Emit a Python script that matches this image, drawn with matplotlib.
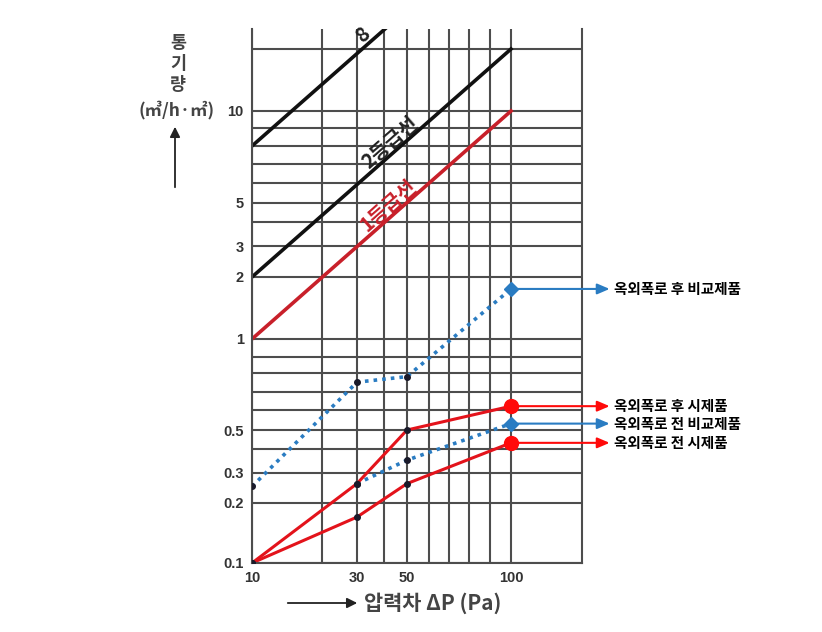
import numpy as np
import matplotlib
matplotlib.use('Agg')
import matplotlib.pyplot as plt
from matplotlib.ticker import FixedLocator, NullFormatter

plt.rcParams['font.family'] = ['Noto Sans CJK KR', 'DejaVu Sans']

# measured points (pressure difference Pa -> air permeability m3/h.m2)
dp = [10, 30, 50, 100]
after_sample = [0.1, 0.26, 0.5, 0.62]      # 옥외폭로 후 시제품
before_sample = [0.1, 0.17, 0.26, 0.43]    # 옥외폭로 전 시제품
after_ref = [0.25, 0.75, 0.78, 1.75]       # 옥외폭로 후 비교제품
dp_before_ref = [30, 50, 100]
before_ref = [0.26, 0.35, 0.53]            # 옥외폭로 전 비교제품

# grade lines
grade_x = [10, 100]
grade1 = [1, 10]
grade2 = [2, 20]
grade8 = [8, 80]

x_ticks = [10, 30, 50, 100]
x_minor = [20, 40, 60, 70, 80, 90]
y_ticks = [0.1, 0.2, 0.3, 0.5, 1, 2, 3, 5, 10]
y_tick_labels = ['0.1', '0.2', '0.3', '0.5', '1', '2', '3', '5', '10']
y_minor = [0.4, 0.6, 0.7, 0.8, 0.9, 4, 6, 7, 8, 9, 20]

labels = ['옥외폭로 후 비교제품', '옥외폭로 후 시제품', '옥외폭로 전 비교제품', '옥외폭로 전 시제품']

# the printed chart is not a true log grid, so the scale is built from
# breakpoints (value -> pixel distance from axis origin)
xs_val = [10, 20, 30, 40, 50, 60, 70, 80, 90, 100, 200]
xs_pos = [0, 70, 105, 132, 155, 177, 197, 217, 238, 259, 330]
ys_val = [0.1, 0.2, 0.3, 0.4, 0.5, 0.6, 0.7, 0.8, 0.9, 1, 2, 3, 4, 5, 6, 7, 8, 9, 10, 20, 80]
ys_pos = [0, 60, 90, 114, 133, 153, 171, 190, 206, 224, 286, 317, 341, 360, 380, 399, 417, 435, 452, 514, 645]


def interp_ext(x, xp, fp):
    x = np.asarray(x, float)
    y = np.interp(x, xp, fp)
    y = np.where(x < xp[0], fp[0] + (x - xp[0]) * (fp[1] - fp[0]) / (xp[1] - xp[0]), y)
    y = np.where(x > xp[-1], fp[-1] + (x - xp[-1]) * (fp[-1] - fp[-2]) / (xp[-1] - xp[-2]), y)
    return y


def make_scale(vals, pos):
    lv = np.log10(vals)
    pos = np.asarray(pos, float)

    def fwd(v):
        return interp_ext(np.log10(np.clip(np.asarray(v, float), 1e-6, None)), lv, pos)

    def inv(p):
        return 10 ** interp_ext(p, pos, lv)
    return fwd, inv


fig = plt.figure(figsize=(8.22, 6.32), dpi=100)
ax = fig.add_axes([252 / 822, 69 / 632, 330 / 822, 534 / 632])

fx, ix = make_scale(xs_val, xs_pos)
fy, iy = make_scale(ys_val, ys_pos)
ax.set_xscale('function', functions=(fx, ix))
ax.set_yscale('function', functions=(fy, iy))
ax.set_xlim(10, 200)
ax.set_ylim(0.1, float(iy(534)))

grid_c = '#4d4d4d'
ax.xaxis.set_major_locator(FixedLocator(x_ticks))
ax.xaxis.set_minor_locator(FixedLocator(x_minor))
ax.yaxis.set_major_locator(FixedLocator(y_ticks))
ax.yaxis.set_minor_locator(FixedLocator(y_minor))
ax.set_xticklabels([str(v) for v in x_ticks])
ax.set_yticklabels(y_tick_labels)
ax.xaxis.set_minor_formatter(NullFormatter())
ax.yaxis.set_minor_formatter(NullFormatter())
ax.grid(True, which='both', color=grid_c, lw=1.5)
ax.set_axisbelow(True)
ax.tick_params(which='both', length=0)
ax.tick_params(axis='x', pad=6)
ax.tick_params(axis='y', pad=6)
for lab in ax.get_xticklabels() + ax.get_yticklabels():
    lab.set_family(['Liberation Sans', 'DejaVu Sans'])
    lab.set_fontweight('bold')
    lab.set_fontsize(10.5)
    lab.set_color('#333333')
ax.spines['top'].set_visible(False)
for s in ['left', 'bottom', 'right']:
    ax.spines[s].set_color(grid_c)
    ax.spines[s].set_linewidth(1.5)

# grade lines
ax.plot(grade_x, grade8, color='#111111', lw=2.6)
ax.plot(grade_x, grade2, color='#111111', lw=2.6)
ax.plot(grade_x, grade1, color='#c8202a', lw=2.6)


def line_label(txt, ys, color, t):
    p0 = ax.transData.transform((grade_x[0], ys[0]))
    p1 = ax.transData.transform((grade_x[1], ys[1]))
    ang = np.degrees(np.arctan2(p1[1] - p0[1], p1[0] - p0[0]))
    p = p0 + t * (p1 - p0)
    d = ax.transData.inverted().transform(p)
    ax.text(d[0], d[1], txt, rotation=ang, rotation_mode='anchor', ha='left',
            va='bottom', color=color, fontsize=14.5, fontweight='bold')


# only the "8" of the top grade label is visible in the original
line_label('8', grade8, '#222222', 0.44)
line_label('2등급선', grade2, '#222222', 0.46)
line_label('1등급선', grade1, '#c8202a', 0.455)

red = '#e3131b'
blue = '#2a7cc2'
dot_c = '#1a1a2a'

ax.plot(dp, after_ref, color=blue, lw=2.6, ls=(0, (1, 1.4)))
ax.plot(dp_before_ref, before_ref, color=blue, lw=2.6, ls=(0, (1, 1.4)))
ax.plot(dp, after_sample, color=red, lw=2.2)
ax.plot(dp, before_sample, color=red, lw=2.2)

for xs, ys in [(dp, after_ref), (dp_before_ref, before_ref), (dp, after_sample), (dp, before_sample)]:
    ax.plot(xs[:-1], ys[:-1], 'o', color=dot_c, ms=4, zorder=4)

ax.plot(dp[-1], after_ref[-1], 'D', color=blue, ms=7, zorder=5)
ax.plot(dp_before_ref[-1], before_ref[-1], 'D', color=blue, ms=7, zorder=5)
ax.plot(dp[-1], after_sample[-1], 'o', color='#ff0a0a', ms=10, zorder=5)
ax.plot(dp[-1], before_sample[-1], 'o', color='#ff0a0a', ms=10, zorder=5)

ends = [(dp[-1], after_ref[-1], blue), (dp[-1], after_sample[-1], '#ff0a0a'),
        (dp_before_ref[-1], before_ref[-1], blue), (dp[-1], before_sample[-1], '#ff0a0a')]
for (x, y, c), lab in zip(ends, labels):
    ax.annotate(lab, xy=(x, y), xytext=(74, 0), textcoords='offset points',
                ha='left', va='center', fontsize=10.5, fontweight='bold', color='black',
                annotation_clip=False,
                arrowprops=dict(arrowstyle='<|-,head_length=0.7,head_width=0.3',
                                color=c, lw=1.5, shrinkA=1, shrinkB=0))

# axis titles
fig.text(178 / 822, 1 - 64 / 632, '통\n기\n량', ha='center', va='center', fontsize=12.5,
         fontweight='bold', color='#444444', linespacing=1.2)
fig.text(177 / 822, 1 - 110 / 632, '(㎥/h·㎡)', ha='center', va='center', fontsize=12.5,
         fontweight='bold', color='#444444')
fig.add_artist(matplotlib.patches.FancyArrowPatch(
    (175 / 822, 1 - 190 / 632), (175 / 822, 1 - 124 / 632), transform=fig.transFigure,
    arrowstyle='-|>,head_length=0.5,head_width=0.25', color='#222222', lw=1.3,
    mutation_scale=12))
fig.add_artist(matplotlib.patches.FancyArrowPatch(
    (285 / 822, 1 - 603 / 632), (360 / 822, 1 - 603 / 632), transform=fig.transFigure,
    arrowstyle='-|>,head_length=0.5,head_width=0.25', color='#222222', lw=1.3,
    mutation_scale=12))
fig.text(364 / 822, 1 - 603 / 632, '압력차 ΔP (Pa)', ha='left', va='center', fontsize=15,
         fontweight='bold', color='#444444')

fig.savefig('out.png', dpi=100)
